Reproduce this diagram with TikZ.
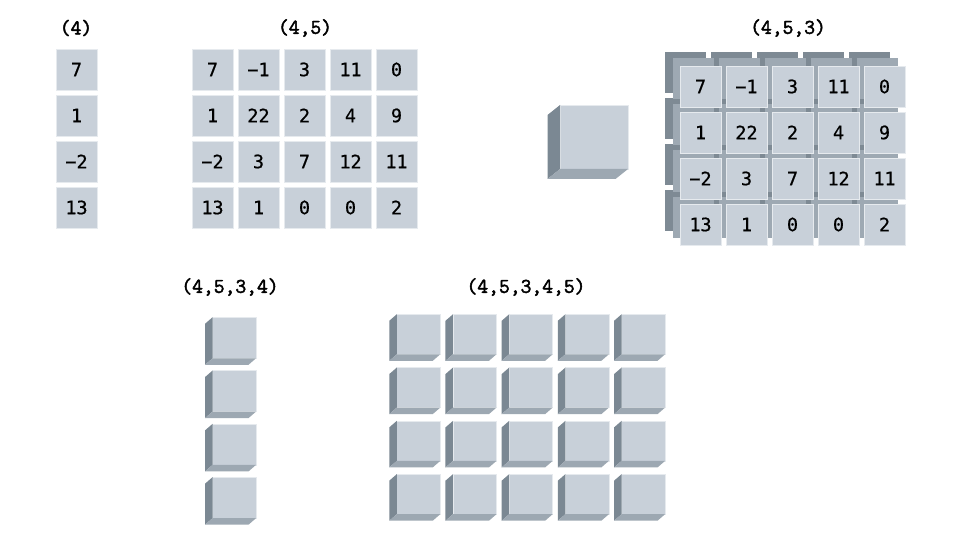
\documentclass[tikz,border=0pt]{standalone}
\usepackage{fontspec}
\newfontfamily\cellfont[FakeBold=0.6]{DejaVu Sans Mono}
\newfontfamily\lblfont[FakeBold=2.2]{Latin Modern Mono}
\definecolor{cfront}{HTML}{C8D0D9}
\definecolor{cside}{HTML}{7B8893}
\definecolor{cbot}{HTML}{9DA8B2}
\definecolor{cmid}{HTML}{9EA9B3}
\definecolor{cback}{HTML}{7E8A94}
\definecolor{cedge}{HTML}{E6EAEE}
\begin{document}
\begin{tikzpicture}[x=1pt,y=-1pt,
  cell/.style={fill=cfront,draw=cedge,line width=0.8pt,minimum width=41pt,minimum height=41pt,inner sep=0pt,outer sep=0pt,
    font=\cellfont\fontsize{18.5}{18.5}\selectfont},
  midcell/.style={cell,fill=cmid,draw=none},
  backcell/.style={cell,fill=cback,draw=none},
  lbl/.style={font=\lblfont\fontsize{21}{21}\selectfont,inner sep=0pt},
  cubefront/.style={fill=cfront,draw=cedge,line width=0.6pt,inner sep=0pt,outer sep=0pt},
  sideface/.style={fill=cside},
  botface/.style={fill=cbot}]
\useasboundingbox[fill=white] (0,0) rectangle (960,540);

% labels
\node[lbl] (l1) at (76,28) {(4)};
\node[lbl] (l2) at (305,28) {(4,5)};
\node[lbl] (l3) at (788,28) {(4,5,3)};
\node[lbl] (l4) at (230,287) {(4,5,3,4)};
\node[lbl] (l5) at (526,287) {(4,5,3,4,5)};

% vector (4)
\foreach \v [count=\j from 0] in {7,1,−2,13}
  \node[cell] (v\j) at (76.5,69.5+46*\j) {\v};

% matrix (4,5)
\foreach \row [count=\j from 0] in {{7,−1,3,11,0},{1,22,2,4,9},{−2,3,7,12,11},{13,1,0,0,2}}
  \foreach \v [count=\i from 0] in \row
    \node[cell] (m\j\i) at (212.5+46*\i,69.5+46*\j) {\v};

% single cube
\node[cubefront,minimum width=68pt,minimum height=64pt] (big) at (594,137) {};
\fill[sideface] (big.north west) -- ++(-12.5,10) -- ++(0,64) -- (big.south west) -- cycle;
\fill[botface] (big.south west) -- ++(-12.5,10) -- ++(68,0) -- (big.south east) -- cycle;

% stack (4,5,3)
\foreach \j in {0,...,3}
  \foreach \i in {0,...,4}
    \node[backcell] (sb\j\i) at (685.5+46*\i,72.5+46*\j) {};
\foreach \j in {0,...,3}
  \foreach \i in {0,...,4}
    \node[midcell] (sm\j\i) at (693+46*\i,79+46*\j) {};
\foreach \row [count=\j from 0] in {{7,−1,3,11,0},{1,22,2,4,9},{−2,3,7,12,11},{13,1,0,0,2}}
  \foreach \v [count=\i from 0] in \row
    \node[cell] (sf\j\i) at (700.5+46*\i,86.5+46*\j) {\v};

% column of cubes (4,5,3,4)
\foreach \j in {0,...,3} {
  \node[cubefront,minimum width=43.5pt,minimum height=41pt] (k\j) at (234.25,337.8+53.3*\j) {};
  \fill[sideface] (k\j.north west) -- ++(-7.5,6.5) -- ++(0,41) -- (k\j.south west) -- cycle;
  \fill[botface] (k\j.south west) -- ++(-7.5,6.5) -- ++(43.5,0) -- (k\j.south east) -- cycle;
}

% grid of cubes (4,5,3,4,5)
\foreach \j in {0,...,3}
  \foreach \i in {0,...,4} {
    \node[cubefront,minimum width=43.5pt,minimum height=40pt] (g\j\i) at (418.5+56.2*\i,334.3+53.3*\j) {};
    \fill[sideface] (g\j\i.north west) -- ++(-7.5,6.5) -- ++(0,40) -- (g\j\i.south west) -- cycle;
    \fill[botface] (g\j\i.south west) -- ++(-7.5,6.5) -- ++(43.5,0) -- (g\j\i.south east) -- cycle;
  }
\end{tikzpicture}
\end{document}
